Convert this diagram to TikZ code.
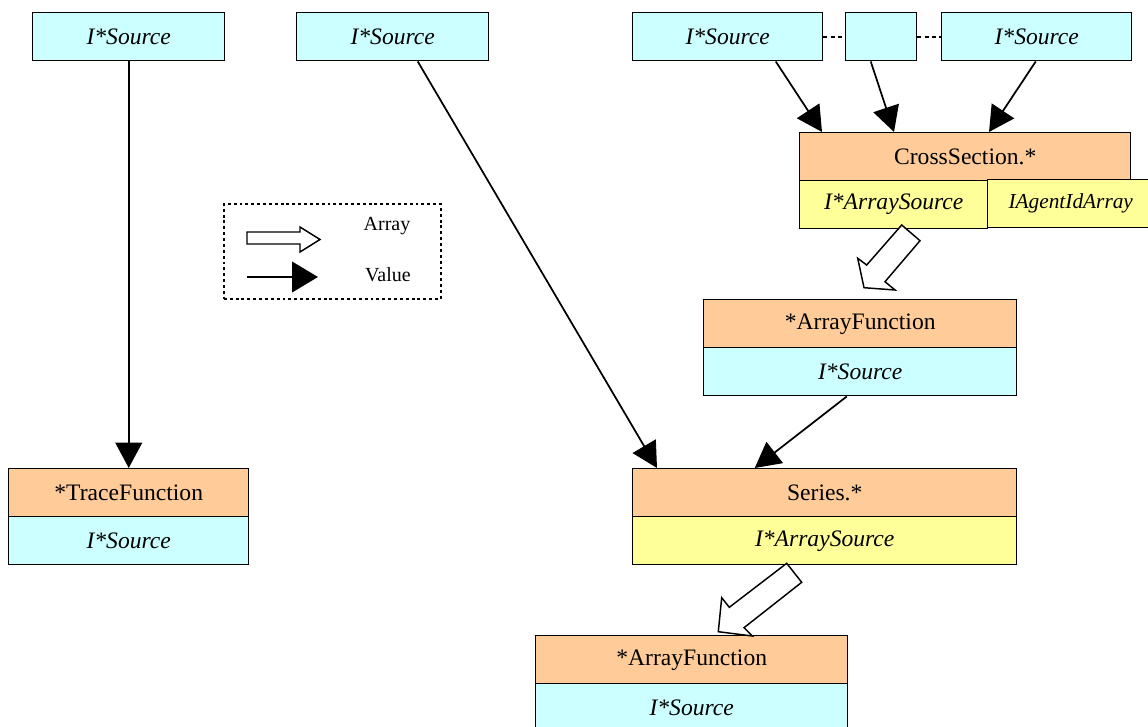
\documentclass[tikz,border=0pt]{standalone}
\usepackage{fontspec}
\setmainfont{Liberation Serif}
\usetikzlibrary{arrows.meta,calc}
\definecolor{cpeach}{RGB}{255,204,153}
\definecolor{ccyan}{RGB}{204,255,255}
\definecolor{cyell}{RGB}{255,255,153}
\tikzset{
  box/.style={draw=black, line width=1.1pt, anchor=north west, inner sep=0pt,
    font=\fontsize{17.7}{20}\selectfont},
  bx/.style={minimum width=#1*0.75pt},
  srcbox/.style={box, fill=ccyan, font=\fontsize{17.7}{20}\selectfont\itshape, minimum height=36pt},
  funbox/.style={box, fill=cpeach, minimum height=36pt},
  arrbox/.style={box, fill=cyell, font=\fontsize{17.7}{20}\selectfont\itshape, minimum height=36pt},
  val/.style={line width=1.3pt, -{Triangle[length=19pt,width=20pt]}},
  blockarrow/.style={draw=black, line width=1.1pt, fill=white, line join=miter},
  legtext/.style={font=\fontsize{15}{18}\selectfont, inner sep=0pt},
  dotline/.style={line width=1.3pt, dash pattern=on 3pt off 2.5pt},
}
\begin{document}
\begin{tikzpicture}[x=0.75pt,y=-0.75pt]
\clip (0,0) rectangle (1148,727);
\fill[white] (0,0) rectangle (1148,727);

% top sources
\node[srcbox, bx=192] (s1) at (32,12) {I*Source};
\node[srcbox, bx=192] (s2) at (296,12) {I*Source};
\node[srcbox, bx=190] (s3) at (632,12) {I*Source};
\node[srcbox, bx=71] (s4) at (845,12) {};
\node[srcbox, bx=190] (s5) at (941,12) {I*Source};

% cross section
\node[funbox, bx=331] (cs) at (799,132) {CrossSection.*};
\node[arrbox, bx=188] (csa) at (799,180) {I*ArraySource};
\node[arrbox, bx=166, font=\fontsize{16}{18}\selectfont\itshape] (csb) at (987,179) {IAgentIdArray};

% array function 1
\node[funbox, bx=313] (af1) at (703,299) {*ArrayFunction};
\node[srcbox, bx=313] (af1s) at (703,347) {I*Source};

% series
\node[funbox, bx=384] (se) at (632,468) {Series.*};
\node[arrbox, bx=384] (ses) at (632,516) {I*ArraySource};

% array function 2
\node[funbox, bx=312] (af2) at (535,635) {*ArrayFunction};
\node[srcbox, bx=312] (af2s) at (535,683) {I*Source};

% trace function
\node[funbox, bx=240] (tf) at (8,468) {*TraceFunction};
\node[srcbox, bx=240] (tfs) at (8,516) {I*Source};

% dotted links
\draw[dotline] (s3.east) -- (s4.west);
\draw[dotline] (s4.east) -- (s5.west);

% value arrows
\draw[val] (s1.south) -- (tf.north);
\draw[val] ($(s2.south)+(25,0)$) -- ($(se.north west)+(25,0)$);
\draw[val] ($(af1s.south)+(-13.5,0)$) -- ($(se.north)+(-70,0)$);
\draw[val] ($(s3.south)+(48,0)$) -- ($(cs.north west)+(23,0)$);
\draw[val] ($(s4.south)+(-10.5,0)$) -- ($(cs.north west)+(95,0)$);
\draw[val] ($(s5.south)+(-1,0)$) -- ($(cs.north west)+(190,0)$);

% array block arrows
\draw[blockarrow] (901.7,225) -- (920,240.7) -- (885,281.7) -- (895,290) -- (864,287.7) -- (857.7,258.3) -- (866.7,265) -- cycle;
\draw[blockarrow] (786.7,563.3) -- (801.7,582.3) -- (744,627.7) -- (752.3,636) -- (718.3,631.7) -- (721.7,597.7) -- (729.3,607.3) -- cycle;

% legend
\node[draw=black, line width=1.3pt, dash pattern=on 2.2pt off 2.2pt, anchor=north west,
  minimum width=162.75pt, minimum height=71.25pt, inner sep=0pt] (leg) at (223,203) {};
\draw[blockarrow] (247,232) -- (300,232) -- (300,227) -- (320,239.5) -- (300,252) -- (300,244) -- (247,244) -- cycle;
\coordinate (va) at (247,277);
\coordinate (vb) at (318,277);
\draw[line width=1.3pt, -{Triangle[length=19.5pt,width=23pt]}] (va) -- (vb);
\node[legtext] (lt1) at (387,226) {Array};
\node[legtext] (lt2) at (388,275) {Value};
\end{tikzpicture}
\end{document}
